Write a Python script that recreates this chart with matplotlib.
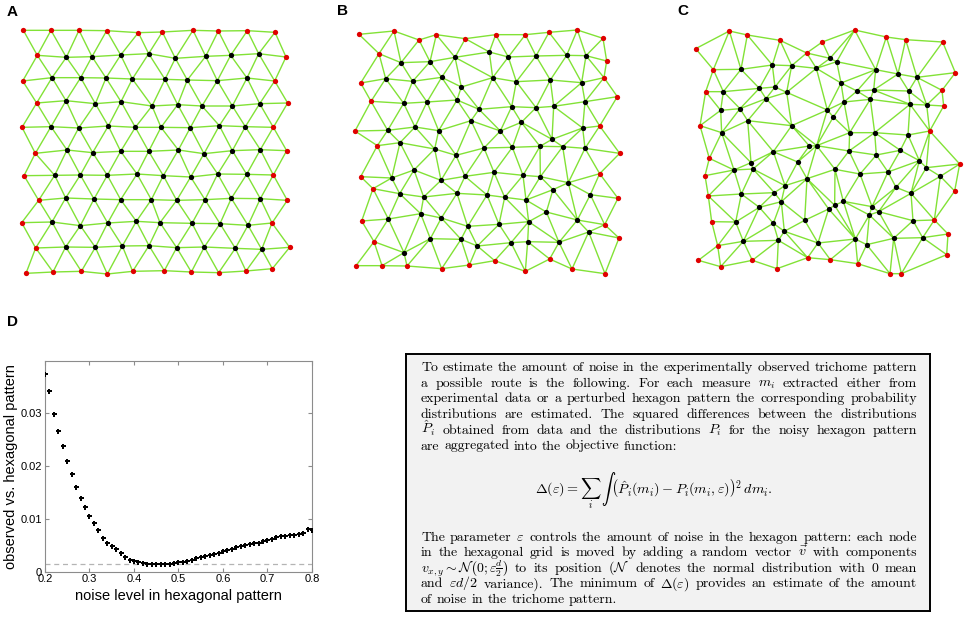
import numpy as np
import matplotlib
matplotlib.use("Agg")
import matplotlib.pyplot as plt
import matplotlib.tri as mtri
from matplotlib.path import Path

FIG_W, FIG_H = 964, 619

# ---------------------------------------------------------------------------
# Lattice panels A-C: node positions.
# Units are 1/3 pixel, measured from the top-left corner of each panel.
# "edge" nodes (red) are listed in order around the border, "in" nodes are black.
# ---------------------------------------------------------------------------
a_edge_x = [70, 153, 237, 320, 415, 487, 579, 655, 742, 825,
            858, 824, 863, 820, 860, 820, 862, 816, 869,
            817, 738, 656, 574, 493, 398, 322, 244, 159, 78,
            107, 65, 116, 72, 106, 66, 110, 68, 112]
a_edge_y = [91, 91, 91, 92, 98, 96, 91, 93, 92, 97,
            171, 243, 309, 382, 452, 525, 601, 669, 742,
            806, 813, 818, 816, 812, 814, 822, 814, 816, 820,
            744, 668, 601, 527, 460, 382, 309, 243, 166]
a_in_x = [199, 276, 362, 446, 526, 617, 692, 776,
          156, 242, 318, 397, 495, 562, 652, 741,
          198, 286, 363, 456, 533, 606, 697, 779,
          153, 236, 325, 406, 483, 571, 658, 736,
          201, 278, 362, 446, 535, 612, 697, 781,
          164, 241, 322, 411, 490, 572, 653, 740,
          197, 282, 362, 454, 530, 615, 694, 781,
          156, 241, 323, 409, 480, 576, 660, 744,
          197, 286, 367, 447, 530, 613, 706, 785]
a_in_y = [172, 170, 165, 161, 175, 169, 166, 161,
          233, 233, 234, 237, 238, 240, 242, 234,
          302, 311, 305, 318, 314, 318, 318, 311,
          380, 384, 378, 382, 382, 383, 377, 380,
          450, 458, 454, 454, 450, 461, 452, 449,
          526, 525, 526, 522, 527, 531, 522, 523,
          594, 597, 599, 599, 601, 599, 595, 596,
          666, 677, 669, 664, 668, 670, 671, 676,
          741, 742, 738, 737, 743, 741, 745, 748]

b_edge_x = [87, 192, 267, 319, 406, 497, 586, 657, 742, 819,
            830, 822, 862, 809, 869, 809, 864, 824, 867,
            825, 726, 659, 586, 494, 418, 335, 231, 156, 78,
            132, 95, 129, 92, 142, 75, 123, 92, 147]
b_edge_y = [103, 93, 120, 104, 116, 104, 104, 97, 90, 115,
            183, 233, 290, 378, 460, 521, 595, 674, 714,
            821, 807, 777, 814, 782, 795, 806, 798, 797, 797,
            725, 663, 566, 530, 437, 393, 304, 249, 161]
b_in_x = [213, 300, 375, 478, 535, 618, 710, 768,
          167, 248, 335, 394, 488, 559, 661, 755,
          221, 291, 381, 447, 545, 618, 671, 765,
          173, 255, 326, 423, 511, 574, 666, 758,
          210, 314, 378, 462, 547, 630, 698, 765,
          185, 252, 333, 405, 492, 579, 631, 715,
          209, 281, 381, 471, 524, 588, 669, 781,
          175, 272, 334, 413, 507, 596, 649, 742,
          222, 301, 393, 442, 543, 593, 687, 776]
b_in_y = [188, 185, 172, 156, 171, 168, 166, 167,
          236, 244, 232, 261, 233, 245, 240, 248,
          310, 306, 300, 328, 320, 323, 319, 305,
          391, 381, 392, 362, 393, 367, 418, 384,
          428, 447, 466, 444, 442, 439, 440, 445,
          534, 510, 541, 529, 517, 526, 530, 548,
          581, 591, 580, 585, 592, 600, 569, 584,
          657, 641, 654, 679, 673, 665, 636, 660,
          758, 716, 718, 738, 728, 725, 727, 696]

c_edge_x = [107, 208, 262, 360, 440, 487, 584, 679, 737, 848,
            886, 846, 851, 809, 899, 884, 823, 864, 860,
            724, 690, 593, 511, 443, 351, 277, 182, 115,
            173, 155, 145, 135, 148, 120, 137, 160]
c_edge_y = [146, 93, 105, 121, 159, 126, 90, 111, 119, 126,
            218, 271, 318, 393, 492, 573, 660, 702, 764,
            821, 821, 791, 779, 773, 806, 781, 800, 781,
            737, 665, 588, 527, 475, 377, 275, 209]
c_in_x = [243, 337, 395, 469, 510, 530, 543, 647, 714, 771,
          190, 298, 345, 380, 318, 591, 641, 631, 746,
          182, 240, 263, 502, 520, 552, 750, 800,
          185, 395, 569, 644, 744,
          340, 448, 470, 567, 649, 721,
          273, 413, 222, 279, 525, 600, 684, 778, 799, 841,
          375, 441, 244, 343, 708, 753,
          364, 298, 506, 524, 550, 636, 628, 656,
          227, 340, 434, 373, 759,
          250, 355, 474, 586, 620, 701, 788]
c_in_y = [208, 195, 197, 205, 175, 185, 249, 209, 222, 232,
          275, 265, 261, 277, 296, 273, 270, 298, 273,
          331, 326, 362, 330, 351, 306, 313, 315,
          398, 377, 398, 398, 405,
          455, 438, 437, 453, 465, 451,
          488, 486, 510, 507, 508, 522, 516, 482, 503, 529,
          557, 536, 582, 578, 562, 580,
          605, 622, 627, 616, 604, 620, 645, 635,
          666, 670, 661, 694, 662,
          724, 721, 729, 717, 734, 715, 713]

# ---------------------------------------------------------------------------
# Panel D: objective function vs noise level
# ---------------------------------------------------------------------------
noise = [0.20, 0.21, 0.22, 0.23, 0.24, 0.25, 0.26, 0.27, 0.28, 0.29,
         0.30, 0.31, 0.32, 0.33, 0.34, 0.35, 0.36, 0.37, 0.38, 0.39,
         0.40, 0.41, 0.42, 0.43, 0.44, 0.45, 0.46, 0.47, 0.48, 0.49,
         0.50, 0.51, 0.52, 0.53, 0.54, 0.55, 0.56, 0.57, 0.58, 0.59,
         0.60, 0.61, 0.62, 0.63, 0.64, 0.65, 0.66, 0.67, 0.68, 0.69,
         0.70, 0.71, 0.72, 0.73, 0.74, 0.75, 0.76, 0.77, 0.78, 0.79,
         0.80]
mismatch = [0.0373, 0.0340, 0.0298, 0.0266, 0.0238, 0.0209, 0.0185, 0.0160, 0.0139, 0.0122,
            0.0106, 0.0091, 0.0078, 0.0064, 0.0055, 0.0048, 0.0042, 0.0035, 0.0028, 0.0023,
            0.0020, 0.0018, 0.0016, 0.0015, 0.0014, 0.0014, 0.0014, 0.0015, 0.0015, 0.0016,
            0.0018, 0.0019, 0.0021, 0.0023, 0.0025, 0.0027, 0.0029, 0.0031, 0.0033, 0.0036,
            0.0039, 0.0041, 0.0043, 0.0046, 0.0048, 0.0050, 0.0052, 0.0054, 0.0055, 0.0057,
            0.0060, 0.0062, 0.0066, 0.0067, 0.0068, 0.0069, 0.0070, 0.0071, 0.0073, 0.0080,
            0.0078]
floor_level = 0.00145
x_ticks = [0.2, 0.3, 0.4, 0.5, 0.6, 0.7, 0.8]
x_ticklabels = ["0.2", "0.3", "0.4", "0.5", "0.6", "0.7", "0.8"]
y_ticks = [0, 0.01, 0.02, 0.03]
y_ticklabels = ["0", "0.01", "0.02", "0.03"]

# ---------------------------------------------------------------------------
# Text box
# ---------------------------------------------------------------------------
para1 = [
    "To estimate the amount of noise in the experimentally observed trichome pattern",
    r"a possible route is the following.  For each measure $m_i$ extracted either from",
    "experimental data or a perturbed hexagon pattern the corresponding probability",
    "distributions are estimated.  The squared differences between the distributions",
    r"$\hat{P}_i$ obtained from data and the distributions $P_i$ for the noisy hexagon pattern",
    "are aggregated into the objective function:",
]
equation = (r"$\Delta(\varepsilon)=\sum_i\,\int\,\left(\hat{P}_i(m_i)-P_i(m_i,\varepsilon)"
            r"\right)^2\,dm_i.$")
para2 = [
    r"The parameter $\varepsilon$ controls the amount of noise in the hexagon pattern: each node",
    r"in the hexagonal grid is moved by adding a random vector $\vec{v}$ with components",
    r"$v_{x,y}\sim\mathcal{N}\left(0;\varepsilon\frac{d}{2}\right)$ to its position "
    r"($\mathcal{N}$ denotes the normal distribution with 0 mean",
    r"and $\varepsilon{}d/2$ variance).  The minimum of $\Delta(\varepsilon)$ provides an "
    r"estimate of the amount",
    "of noise in the trichome pattern.",
]

GREEN = "#82e236"
RED = "#e00000"
SANS = ["Liberation Sans", "DejaVu Sans"]
SERIF = ["cmr10", "DejaVu Serif"]

plt.rcParams["font.family"] = SANS
plt.rcParams["mathtext.fontset"] = "cm"
plt.rcParams["axes.formatter.use_mathtext"] = True


def px_rect(left, top, w, h):
    return [left / FIG_W, 1 - (top + h) / FIG_H, w / FIG_W, h / FIG_H]


def draw_lattice(ax, edge_x, edge_y, in_x, in_y):
    x = np.array(edge_x + in_x, float)
    y = np.array(edge_y + in_y, float)
    tri = mtri.Triangulation(x, y)
    # keep only triangles lying inside the border polygon
    verts = np.column_stack([edge_x + edge_x[:1], edge_y + edge_y[:1]])
    outline = Path(verts, closed=True)
    cx = x[tri.triangles].mean(axis=1)
    cy = y[tri.triangles].mean(axis=1)
    tri.set_mask(~outline.contains_points(np.column_stack([cx, cy])))
    ax.triplot(tri, color=GREEN, lw=1.0, zorder=1)
    ax.plot(in_x, in_y, "o", color="black", ms=3.8, mec="none", zorder=2)
    ax.plot(edge_x, edge_y, "o", color=RED, ms=3.8, mec="none", zorder=2)


fig = plt.figure(figsize=(FIG_W / 100, FIG_H / 100), dpi=100)

panels = [("A", (0, 0, 320, 290), (35, 35), a_edge_x, a_edge_y, a_in_x, a_in_y),
          ("B", (330, 0, 320, 290), (37, 32), b_edge_x, b_edge_y, b_in_x, b_in_y),
          ("C", (660, 0, 304, 290), (68, 32), c_edge_x, c_edge_y, c_in_x, c_in_y)]
for letter, (l, t, w, h), (lx, ly), ex, ey, ix, iy in panels:
    ax = fig.add_axes(px_rect(l, t, w, h))
    draw_lattice(ax, ex, ey, ix, iy)
    ax.set_xlim(0, 3 * w)
    ax.set_ylim(3 * h, 0)
    ax.axis("off")
    ax.text(lx, ly, letter, ha="center", va="center", fontsize=11, fontweight="bold")

# ---- panel D
axd = fig.add_axes(px_rect(45, 360.7, 267, 211))
axd.plot(noise, mismatch, "P", color="black", ms=3.6, mew=0, zorder=3)
axd.axhline(floor_level, color="#b4b4b4", lw=0.9, ls=(0, (4, 3)), zorder=2)
axd.set_xlim(0.2, 0.8)
axd.set_ylim(0, 0.0398)
axd.set_xticks(x_ticks)
axd.set_xticklabels(x_ticklabels)
axd.set_yticks(y_ticks)
axd.set_yticklabels(y_ticklabels)
axd.tick_params(direction="in", length=3, width=0.8, color="#8c8c8c",
                labelsize=8, pad=2, top=True, right=True)
for s in axd.spines.values():
    s.set_color("#8c8c8c")
    s.set_linewidth(0.8)
axd.set_xlabel("noise level in hexagonal pattern", fontsize=10.5, labelpad=3)
axd.set_ylabel("observed vs. hexagonal pattern", fontsize=10.5, labelpad=2)
fig.text(12 / FIG_W, 1 - 322 / FIG_H, "D", ha="center", va="center",
         fontsize=11, fontweight="bold")

# ---- text box, coordinates in image pixels
box_l, box_t, box_r, box_b = 406, 354, 930, 611
axt = fig.add_axes(px_rect(box_l, box_t, box_r - box_l, box_b - box_t))
axt.set_xlim(box_l, box_r)
axt.set_ylim(box_b, box_t)
axt.set_facecolor("#f2f2f2")
axt.set_xticks([])
axt.set_yticks([])
for s in axt.spines.values():
    s.set_color("black")
    s.set_linewidth(1.4)

renderer = fig.canvas.get_renderer()
text_l, text_w = 421, 496

# pick the font size so the first line fills the column
probe = axt.text(0, 0, para1[0], fontsize=10, family=SERIF)
size = 10 * text_w / probe.get_window_extent(renderer).width
probe.remove()


def put_line(line, y, justify=True):
    words = line.split()
    objs = [axt.text(0, y, wd, fontsize=size, family=SERIF, va="baseline")
            for wd in words]
    widths = [o.get_window_extent(renderer).width for o in objs]
    if justify and len(words) > 1:
        gap = (text_w - sum(widths)) / (len(words) - 1)
    else:
        gap = size * 100 / 72 * 0.33
    x = text_l
    for o, wd in zip(objs, widths):
        o.set_x(x)
        x += wd + gap


for k, line in enumerate(para1):
    put_line(line, 371 + 15.7 * k, justify=k < len(para1) - 1)
axt.text(654, 494, equation, fontsize=size * 1.02, ha="center", va="baseline")
for k, line in enumerate(para2):
    put_line(line, 541 + 15.4 * k, justify=k < len(para2) - 1)

fig.savefig("out.png", dpi=100)
